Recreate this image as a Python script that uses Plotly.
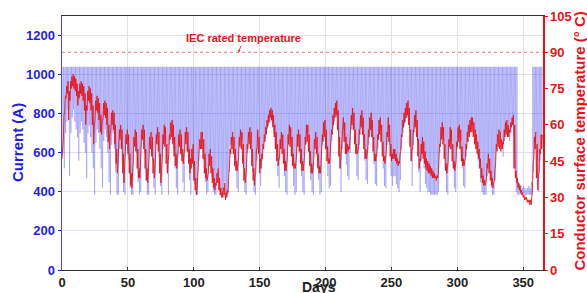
import numpy as np
import plotly.graph_objects as go

# ---------------- data ----------------
days = list(range(365))

# daily peak / trough of the line current (A)
current_hi = [
    1040,1040,1040,1040,1040,1040,1040,1040,1040,1040,
    1040,1040,1040,1040,1040,1040,1040,1040,1040,1040,
    1040,1040,1040,1040,1040,1040,1040,1040,1040,1040,
    1040,1040,1040,1040,1040,1040,1040,1040,1040,1040,
    1040,1040,1040,1040,1040,1040,1040,1040,1040,1040,
    1040,1040,1040,1040,1040,1040,1040,1040,1040,1040,
    1040,1040,1040,1040,1040,1040,1040,1040,1040,1040,
    1040,1040,1040,1040,1040,1040,1040,1040,1040,1040,
    1040,1040,1040,1040,1040,1040,1040,1040,1040,1040,
    1040,1040,1040,1040,1040,1040,1040,1040,1040,1040,
    1040,1040,1040,1040,1040,1040,1040,1040,1040,1040,
    1040,1040,1040,1040,1040,1040,1040,1040,1040,1040,
    1040,1040,1040,1040,1040,1040,1040,1040,1040,1040,
    1040,1040,1040,1040,1040,1040,1040,1040,1040,1040,
    1040,1040,1040,1040,1040,1040,1040,1040,1040,1040,
    1040,1040,1040,1040,1040,1040,1040,1040,1040,1040,
    1040,1040,1040,1040,1040,1040,1040,1040,1040,1040,
    1040,1040,1040,1040,1040,1040,1040,1040,1040,1040,
    1040,1040,1040,1040,1040,1040,1040,1040,1040,1040,
    1040,1040,1040,1040,1040,1040,1040,1040,1040,1040,
    1040,1040,1040,1040,1040,1040,1040,1040,1040,1040,
    1040,1040,1040,1040,1040,1040,1040,1040,1040,1040,
    1040,1040,1040,1040,1040,1040,1040,1040,1040,1040,
    1040,1040,1040,1040,1040,1040,1040,1040,1040,1040,
    1040,1040,1040,1040,1040,1040,1040,1040,1040,1040,
    1040,1040,1040,1040,1040,1040,1040,1040,1040,1040,
    1040,1040,1040,1040,1040,1040,1040,1040,1040,1040,
    1040,1040,1040,1040,1040,1040,1040,1040,1040,1040,
    1040,1040,1040,1040,1040,1040,1040,1040,1040,1040,
    1040,1040,1040,1040,1040,1040,1040,1040,1040,1040,
    1040,1040,1040,1040,1040,1040,1040,1040,1040,1040,
    1040,1040,1040,1040,1040,1040,1040,1040,1040,1040,
    1040,1040,1040,1040,1040,1040,1040,1040,1040,1040,
    1040,1040,1040,1040,1040,1040,1040,1040,1040,1040,
    1040,1040,1040,1040,1040,1040,450,440,430,420,
    430,420,410,420,430,420,450,1040,1040,1040,
    1040,1040,1040,1040,1040,
]
current_lo = [
    600,520,700,760,820,480,700,780,820,760,
    720,680,560,700,760,720,650,600,470,700,
    740,680,600,520,385,650,720,700,620,520,
    420,660,720,680,600,450,385,640,700,620,
    500,385,385,620,700,560,400,385,650,700,
    560,420,385,385,640,690,600,450,385,400,
    660,700,600,460,385,385,640,680,560,420,
    385,650,700,580,430,385,620,700,650,500,
    385,640,720,700,620,520,420,385,640,690,
    580,450,400,660,700,600,460,385,560,600,
    440,385,385,560,650,700,680,560,450,385,
    400,560,600,480,400,385,385,480,520,400,
    385,385,420,450,385,385,500,640,680,700,
    640,520,420,400,640,690,660,520,400,385,
    600,680,700,650,500,400,385,560,680,600,
    430,560,620,680,700,720,740,760,760,740,
    700,620,560,480,420,620,680,620,480,400,
    385,640,700,660,540,430,385,400,640,680,
    600,480,400,385,640,700,700,600,460,400,
    385,630,680,600,460,385,400,640,700,720,
    620,480,420,430,660,720,760,780,780,700,
    520,400,620,720,660,540,480,460,600,720,
    760,720,600,480,460,640,720,740,680,560,
    460,440,640,700,740,680,540,440,430,620,
    700,720,660,520,430,420,640,720,640,480,
    430,480,480,440,420,400,460,620,700,740,
    760,780,780,720,560,430,640,720,740,660,
    500,400,560,600,520,440,420,400,400,385,
    385,385,385,385,385,400,600,680,700,660,
    520,400,385,620,680,660,520,420,400,620,
    680,700,660,520,430,420,580,660,700,720,
    740,740,700,660,620,560,520,450,400,385,
    385,385,480,560,500,420,385,385,460,620,
    680,700,680,620,580,660,700,720,700,660,
    700,740,760,520,400,385,385,385,385,385,
    385,385,385,385,385,385,385,500,660,700,
    560,400,560,680,700,
]

# daily maximum / minimum of conductor surface temperature (deg C)
temp_max = [
    50,64,72,76,78,74,78,80,81,80,
    79,77,74,77,78,77,76,73,68,74,
    76,75,73,68,60,70,72,71,69,64,
    62,69,70,69,67,60,56,65,66,65,
    60,50,45,58,60,58,48,42,56,58,
    56,48,40,38,55,58,57,50,42,44,
    58,60,58,50,42,40,55,57,55,46,
    42,56,59,57,48,40,56,60,59,52,
    45,56,61,62,60,55,48,46,56,58,
    56,50,48,57,59,57,50,46,50,52,
    45,38,34,46,54,57,57,54,48,42,
    40,48,50,47,42,38,36,40,42,38,
    34,32,34,36,32,33,40,50,55,57,
    55,50,45,44,55,58,57,52,42,39,
    52,57,59,57,50,42,39,50,58,55,
    46,48,52,56,59,62,64,66,67,66,
    64,60,57,52,46,54,57,56,50,45,
    44,56,60,59,55,48,44,45,56,58,
    56,50,45,44,55,60,60,56,49,44,
    43,54,57,55,48,43,44,56,61,62,
    58,51,46,48,58,64,67,69,70,66,
    55,46,55,63,61,55,52,51,56,64,
    67,65,58,52,50,58,64,66,63,56,
    50,48,58,63,65,62,55,48,47,56,
    62,63,60,53,47,46,57,63,60,52,
    48,50,50,48,46,45,48,56,62,65,
    67,69,70,67,58,50,58,64,66,62,
    54,46,52,55,53,49,46,45,44,43,
    42,41,40,39,39,40,52,59,61,59,
    52,44,42,54,59,58,52,45,43,53,
    59,60,58,51,46,45,52,57,60,62,
    63,63,61,58,56,53,50,46,42,39,
    37,36,44,48,46,41,38,36,42,52,
    56,58,57,54,53,58,61,62,60,58,
    61,63,64,60,41,38,36,35,33,32,
    31,30,30,29,29,29,32,45,55,57,
    52,40,50,56,56,
]
temp_min = [
    46,55,66,71,73,62,70,75,76,75,
    74,72,68,71,73,72,70,66,60,66,
    70,69,66,60,52,62,66,65,62,57,
    56,62,64,63,60,53,50,58,60,58,
    52,44,40,50,54,50,40,36,47,52,
    48,40,35,34,45,51,49,42,38,38,
    50,54,50,42,37,36,46,50,47,40,
    38,48,52,49,40,36,46,52,51,44,
    40,48,54,55,52,47,43,42,48,51,
    48,45,44,49,52,49,44,40,42,44,
    37,33,31,38,46,50,50,46,40,38,
    37,40,43,40,36,34,33,35,36,33,
    31,30,30,31,29,30,32,42,48,50,
    48,43,41,41,47,51,50,44,37,36,
    43,50,52,50,43,37,35,40,50,48,
    40,42,46,50,53,56,59,61,63,62,
    59,55,50,45,43,46,50,48,44,41,
    41,47,52,51,47,43,42,42,48,51,
    49,44,41,41,47,52,53,49,43,40,
    40,46,50,48,42,40,40,48,53,55,
    50,45,44,44,50,56,60,63,64,58,
    47,42,47,55,53,48,48,49,50,56,
    60,58,52,48,48,51,56,59,56,50,
    46,46,50,55,58,55,49,45,45,49,
    54,56,53,47,45,44,49,55,53,47,
    45,46,46,45,44,43,44,49,55,59,
    61,63,64,60,51,45,50,57,59,55,
    47,42,45,48,46,44,42,41,40,40,
    39,38,38,38,37,38,44,51,54,52,
    46,41,40,45,51,50,45,42,41,45,
    51,53,50,45,43,43,46,50,53,55,
    57,57,55,52,50,48,46,42,38,36,
    35,35,38,42,40,37,35,34,37,44,
    49,51,50,49,50,52,55,56,55,55,
    57,59,60,42,38,36,34,33,32,31,
    30,29,29,28,28,27,27,34,46,50,
    38,33,40,48,50,
]

rated_temp = 90
x_ticks = [0, 50, 100, 150, 200, 250, 300, 350]
current_ticks = [0, 200, 400, 600, 800, 1000, 1200]
temp_ticks = [0, 15, 30, 45, 60, 75, 90, 105]

for name, arr in [("current_hi", current_hi), ("current_lo", current_lo),
                  ("temp_max", temp_max), ("temp_min", temp_min)]:
    assert len(arr) == len(days), f"{name} has {len(arr)} values"

# ---------------- build the traces ----------------
d = np.array(days, dtype=float)
tb = np.column_stack([d + 0.25, d + 0.75]).ravel()
yb = np.column_stack([current_hi, current_lo]).ravel()
tr = np.column_stack([d + 0.05, d + 0.55]).ravel()
yr = np.column_stack([temp_min, temp_max]).ravel()

BLUE = "rgb(30,30,235)"
RED = "rgb(232,18,24)"
FONT = "Liberation Sans, Arial, sans-serif"

fig = go.Figure()
fig.add_trace(go.Scatter(x=tb, y=yb, mode="lines", yaxis="y",
                         line=dict(color="rgba(40,40,235,0.5)", width=0.5),
                         hoverinfo="skip", showlegend=False))
fig.add_trace(go.Scatter(x=tr, y=yr, mode="lines", yaxis="y2",
                         line=dict(color="rgba(235,15,20,0.95)", width=0.9),
                         hoverinfo="skip", showlegend=False))
fig.add_trace(go.Scatter(x=[0, 365], y=[rated_temp, rated_temp], mode="lines", yaxis="y2",
                         line=dict(color="rgba(240,90,90,0.9)", width=1, dash="dot"),
                         hoverinfo="skip", showlegend=False))

fig.update_layout(
    template="none",
    width=587, height=293,
    margin=dict(l=62, r=44, t=16, b=23, autoexpand=False),
    paper_bgcolor="white", plot_bgcolor="white",
    font=dict(family=FONT, size=13, color="black"),
    xaxis=dict(range=[0, 365], tickvals=x_ticks, showgrid=True, gridcolor="#dfe2ee",
               gridwidth=1, zeroline=False, showline=True, linecolor="#333",
               linewidth=1, mirror=True, ticks="inside", ticklen=3, tickcolor="#333",
               automargin=False,
               tickfont=dict(family=FONT, size=13, color="#222", weight="bold")),
    yaxis=dict(range=[0, 1300], tickvals=current_ticks, showgrid=True, gridcolor="#dfe2ee",
               zeroline=False, showline=True, linecolor="rgb(70,70,240)", linewidth=1.5,
               ticks="outside", ticklen=3, tickcolor=BLUE, automargin=False,
               tickfont=dict(family=FONT, size=13, color=BLUE, weight="bold")),
    yaxis2=dict(range=[0, 105], tickvals=temp_ticks, overlaying="y", side="right",
                showgrid=False, zeroline=False, showline=True, linecolor=RED, linewidth=1.5,
                ticks="outside", ticklen=3, tickcolor=RED, automargin=False,
                tickfont=dict(family=FONT, size=13, color=RED, weight="bold")),
    annotations=[
        dict(text="Current (A)", xref="paper", yref="paper", x=-0.0915, y=0.504,
             textangle=-90, showarrow=False, xanchor="center", yanchor="middle",
             font=dict(family=FONT, size=15, color=BLUE, weight="bold")),
        dict(text="Conductor surface temperature (° C)", xref="paper", yref="paper",
             x=1.075, y=0.506, textangle=-90, showarrow=False,
             xanchor="center", yanchor="middle",
             font=dict(family=FONT, size=15, color=RED, weight="bold")),
        dict(text="Days", xref="paper", yref="paper", x=0.535, y=-0.068,
             showarrow=False, xanchor="center", yanchor="middle",
             font=dict(family=FONT, size=14, color="#222", weight="bold")),
        dict(text="IEC rated temperature", xref="x", yref="y2", x=134, y=rated_temp,
             ax=5, ay=-14, showarrow=True, arrowhead=2, arrowsize=0.6, arrowwidth=0.8,
             arrowcolor=RED,
             font=dict(family=FONT, size=11, color=RED, weight="bold")),
    ],
)

fig.write_html(
    "out.html",
    config={"displayModeBar": False, "staticPlot": True},
    post_script="document.documentElement.style.margin='0';"
                "document.body.style.margin='0';"
                "document.body.style.overflow='hidden';",
)
